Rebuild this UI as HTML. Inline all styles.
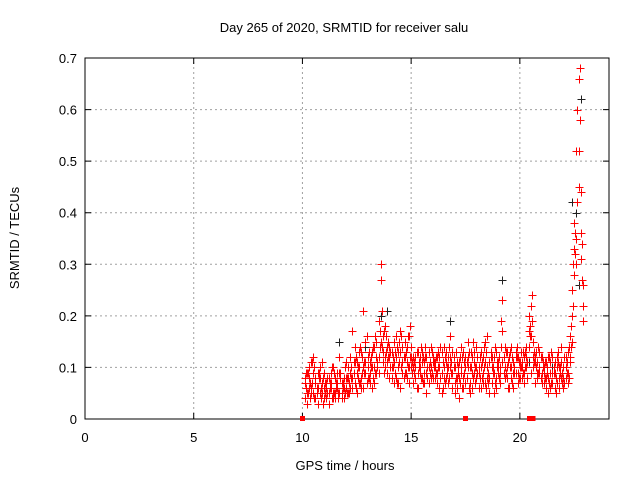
<!DOCTYPE html>
<html><head><meta charset="utf-8"><style>
body{margin:0;background:#fff;width:640px;height:480px;overflow:hidden}
svg{display:block;font-family:"Liberation Sans",sans-serif}
</style></head><body>
<svg id="chart" width="640" height="480" viewBox="0 0 640 480" xmlns="http://www.w3.org/2000/svg">
<rect width="640" height="480" fill="#fff"/>
<text x="344" y="32" font-size="13" text-anchor="middle">Day 265 of 2020, SRMTID for receiver salu</text>
<text x="345" y="470" font-size="13" text-anchor="middle">GPS time / hours</text>
<text x="19" y="238" font-size="13" text-anchor="middle" transform="rotate(-90 19 238)">SRMTID / TECUs</text>
<g id="grid"></g><g id="axes"></g><g id="marks" shape-rendering="crispEdges"></g>
</svg>
<script>
const xTicks=[0,5,10,15,20];
const yTicks=[0,0.1,0.2,0.3,0.4,0.5,0.6,0.7];
const yTickLabels=["0","0.1","0.2","0.3","0.4","0.5","0.6","0.7"];
const times=[10.1,10.2,10.3,10.4,10.5,10.6,10.7,10.8,10.9,11.0,11.1,11.2,11.3,11.4,11.5,11.6,11.7,11.8,11.9,12.0,12.1,12.2,12.3,12.4,12.5,12.6,12.7,12.8,12.9,13.0,13.1,13.2,13.3,13.4,13.5,13.6,13.7,13.8,13.9,14.0,14.1,14.2,14.3,14.4,14.5,14.6,14.7,14.8,14.9,15.0,15.1,15.2,15.3,15.4,15.5,15.6,15.7,15.8,15.9,16.0,16.1,16.2,16.3,16.4,16.5,16.6,16.7,16.8,16.9,17.0,17.1,17.2,17.3,17.4,17.5,17.6,17.7,17.8,17.9,18.0,18.1,18.2,18.3,18.4,18.5,18.6,18.7,18.8,18.9,19.0,19.1,19.2,19.3,19.4,19.5,19.6,19.7,19.8,19.9,20.0,20.1,20.2,20.3,20.4,20.5,20.6,20.7,20.8,20.9,21.0,21.1,21.2,21.3,21.4,21.5,21.6,21.7,21.8,21.9,22.0,22.1,22.2,22.3,22.4,22.5,22.6,22.7,22.8,22.9];
const timesH=[10.15,10.25,10.35,10.45,10.55,10.65,10.75,10.85,10.95,11.05,11.15,11.25,11.35,11.45,11.55,11.65,11.75,11.85,11.95,12.05,12.15,12.25,12.35,12.45,12.55,12.65,12.75,12.85,12.95,13.05,13.15,13.25,13.35,13.45,13.55,13.65,13.75,13.85,13.95,14.05,14.15,14.25,14.35,14.45,14.55,14.65,14.75,14.85,14.95,15.05,15.15,15.25,15.35,15.45,15.55,15.65,15.75,15.85,15.95,16.05,16.15,16.25,16.35,16.45,16.55,16.65,16.75,16.85,16.95,17.05,17.15,17.25,17.35,17.45,17.55,17.65,17.75,17.85,17.95,18.05,18.15,18.25,18.35,18.45,18.55,18.65,18.75,18.85,18.95,19.05,19.15,19.25,19.35,19.45,19.55,19.65,19.75,19.85,19.95,20.05,20.15,20.25,20.35,20.45,20.55,20.65,20.75,20.85,20.95,21.05,21.15,21.25,21.35,21.45,21.55,21.65,21.75,21.85,21.95,22.05,22.15,22.25,22.35,22.45,22.55,22.65,22.75,22.85];
const redA=[.08,.05,.10,.06,.12,.07,.09,.05,.11,.06, .04,.08,.06,.10,.05,.07,.09,.04,.06,.11, .08,.12,.06,.14,.09,.07,.13,.10,.15,.08, .11,.06,.14,.09,.19,.30,.16,.12,.09,.14, .10,.15,.08,.13,.17,.11,.09,.14,.07,.12, .10,.08,.13,.09,.11,.07,.12,.10,.14,.08, .11,.09,.06,.13,.10,.08,.12,.16,.09,.07, .11,.08,.14,.06,.10,.12,.05,.09,.13,.08, .10,.06,.12,.15,.08,.11,.07,.05,.13,.09, .10,.23,.14,.08,.12,.10,.06,.13,.09,.11, .08,.12,.10,.17,.22,.15,.11,.09,.13,.07, .10,.08,.12,.06,.09,.11,.07,.10,.14,.08, .12,.09,.16,.25,.33,.52,.66,.44,.19];
const redB=[.04,.09,.06,.11,.05,.08,.03,.10,.07,.04, .07,.05,.09,.04,.08,.06,.12,.05,.08,.06, .05,.09,.17,.07,.11,.13,.06,.21,.09,.12, .07,.13,.10,.15,.12,.27,.11,.18,.14,.08, .13,.07,.16,.10,.06,.14,.12,.08,.16,.10, .07,.12,.06,.10,.13,.09,.05,.13,.08,.11, .08,.12,.10,.05,.14,.11,.07,.10,.13,.05, .08,.04,.10,.13,.07,.15,.10,.06,.11,.14, .06,.13,.09,.07,.16,.05,.10,.12,.08,.11, .07,.17,.10,.13,.06,.14,.09,.12,.07,.10, .11,.07,.14,.20,.09,.12,.07,.11,.09,.12, .07,.11,.05,.09,.12,.06,.10,.08,.11,.06, .08,.13,.11,.20,.38,.30,.52,.36,.26];
const redC=[.07,.03,.08,.05,.09,.04,.06,.08,.05,.09, .06,.03,.07,.05,.04,.09,.05,.07,.04,.08, .10,.06,.08,.11,.05,.10,.08,.06,.11,.10, .09,.10,.07,.12,.09,.15,.13,.10,.11,.12, .08,.11,.12,.07,.13,.09,.15,.11,.10,.14, .12,.10,.09,.12,.08,.11,.09,.07,.10,.12, .10,.07,.12,.09,.08,.13,.10,.12,.06,.10, .06,.11,.09,.08,.12,.10,.07,.12,.09,.10, .09,.10,.07,.11,.10,.08,.12,.09,.06,.10, .09,.11,.08,.10,.12,.08,.11,.09,.12,.08, .10,.09,.12,.14,.16,.10,.12,.08,.10,.09, .09,.06,.08,.11,.07,.09,.12,.06,.08,.10, .10,.07,.12,.15,.28,.35,.45,.31,.22];
const redD=[.06,.09,.04,.07,.10,.05,.08,.06,.03,.07, .05,.07,.04,.09,.06,.05,.08,.06,.10,.05, .07,.10,.09,.12,.08,.14,.09,.11,.07,.13, .12,.08,.16,.10,.14,.21,.17,.13,.15,.10, .12,.09,.14,.11,.16,.08,.13,.10,.18,.09, .11,.06,.10,.14,.07,.12,.10,.09,.13,.11, .09,.13,.08,.11,.07,.10,.14,.09,.12,.08, .10,.07,.12,.09,.11,.06,.13,.08,.10,.12, .08,.11,.14,.06,.09,.13,.10,.07,.11,.12, .19,.12,.09,.11,.13,.07,.10,.12,.08,.13, .09,.13,.11,.18,.24,.13,.10,.14,.08,.11, .08,.10,.07,.13,.09,.05,.11,.09,.07,.12, .09,.14,.18,.30,.36,.60,.68,.34];
const redE=[.09,.05,.07,.11,.04,.06,.09,.04,.08,.05, .08,.06,.10,.05,.07,.04,.09,.07,.05,.08, .05,.08,.11,.06,.10,.07,.12,.09,.16,.08, .10,.14,.09,.11,.17,.14,.09,.16,.12,.13, .10,.13,.07,.15,.10,.12,.09,.16,.12,.11, .09,.13,.11,.08,.12,.14,.08,.11,.09,.10, .12,.10,.14,.06,.12,.09,.08,.11,.10,.13, .09,.12,.06,.11,.08,.13,.10,.15,.07,.09, .12,.08,.10,.13,.07,.12,.09,.14,.10,.08, .14,.09,.13,.06,.10,.12,.09,.14,.11,.10, .13,.10,.08,.16,.19,.11,.13,.09,.12,.10, .11,.09,.12,.07,.10,.08,.13,.10,.09,.07, .11,.08,.14,.22,.32,.42,.58,.27];
const blackT=[11.7,12.9,13.6,13.9,16.8,19.2,20.4,22.4,22.6,22.8,22.7,21.5];
const blackV=[.15,.14,.20,.21,.19,.27,.11,.42,.40,.62,.26,.10];
const zeroT=[10.0,17.5,20.45,20.6];
const zeroV=[0,0,0,0];
const X0=85,X1=609,Y0=419,Y1=58,XMAX=24.1,YMAX=0.7;
const sx=t=>X0+t/XMAX*(X1-X0), sy=v=>Y0-v/YMAX*(Y0-Y1);
const NS="http://www.w3.org/2000/svg";
function mk(tag,at,parent){const e=document.createElementNS(NS,tag);for(const k in at)e.setAttribute(k,at[k]);parent.appendChild(e);return e;}
const grid=document.getElementById('grid'),axes=document.getElementById('axes'),marks=document.getElementById('marks');
xTicks.forEach(t=>{const x=sx(t);
 if(t>0){const g=mk('line',{x1:x,x2:x,y1:Y0,y2:Y1,stroke:'#a0a0a0','stroke-dasharray':'2,3'},grid);
 }
 const tk=mk('path',{d:`M${x},${Y0}v-6M${x},${Y1}v6`,stroke:'#000'},axes);
 
 const l=mk('text',{x:x,y:Y0+23,'font-size':13,'text-anchor':'middle'},axes);l.textContent=String(t);
 });
yTicks.forEach((v,i)=>{const y=sy(v);
 if(v>0&&v<0.7){const g=mk('line',{x1:X0,x2:X1,y1:y,y2:y,stroke:'#a0a0a0','stroke-dasharray':'2,3'},grid);
 }
 const tk=mk('path',{d:`M${X0},${y}h6M${X1},${y}h-6`,stroke:'#000'},axes);
 
 const l=mk('text',{x:X0-8,y:y+5,'font-size':13,'text-anchor':'end'},axes);l.textContent=yTickLabels[i];
 });
const fr=mk('rect',{x:X0,y:Y1,width:X1-X0,height:Y0-Y1,fill:'none',stroke:'#000'},axes);

function plus(t,v,c){const x=Math.round(sx(t))+0.5,y=Math.round(sy(v))+0.5;
 const p=mk('path',{d:`M${x-4},${y}h8M${x},${y-4}v8`,stroke:c,'stroke-width':1},marks);
 }
blackT.forEach((t,i)=>plus(t,blackV[i],'#202020'));
[redA,redB,redC].forEach(arr=>times.forEach((t,i)=>plus(t,arr[i],'#ff0000')));
[redD,redE].forEach(arr=>timesH.forEach((t,i)=>plus(t,arr[i],'#ff0000')));
zeroT.forEach((t,i)=>{const r=mk('rect',{x:sx(t)-2.5,y:sy(zeroV[i])-3,width:5,height:5,fill:'#f00'},marks);
 });
</script>
</body></html>
